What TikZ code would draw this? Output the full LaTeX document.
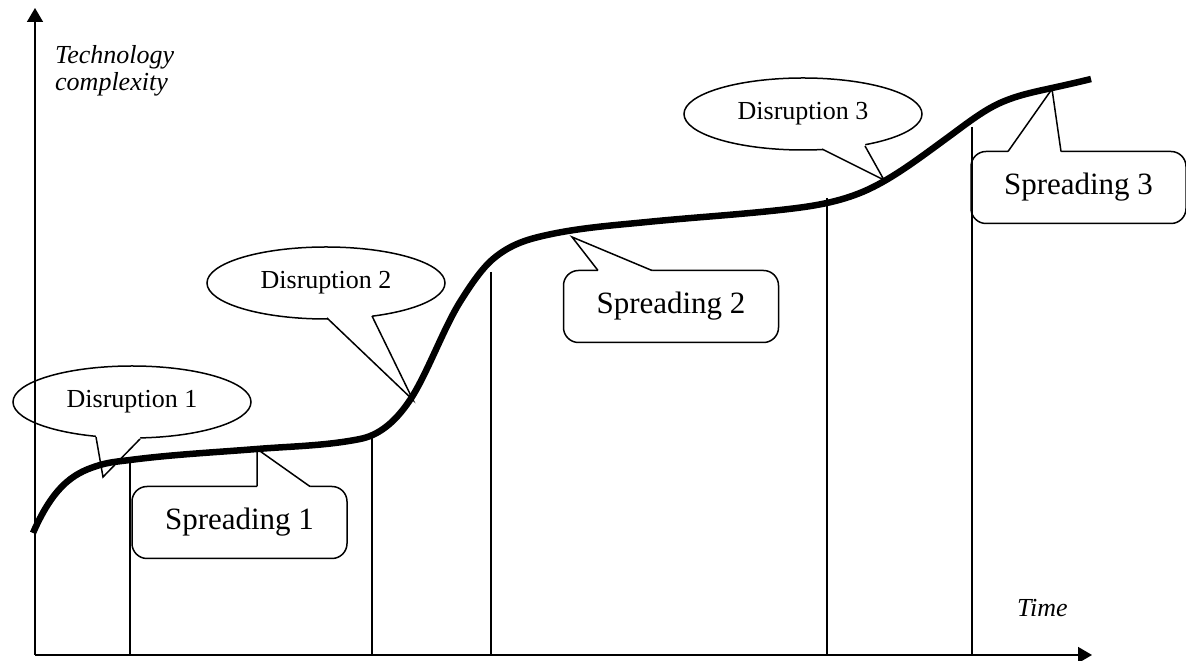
\documentclass[tikz,border=0pt]{standalone}
\usepackage{fontspec}
\setmainfont{Liberation Serif}
\usetikzlibrary{arrows.meta,shapes.geometric}
\begin{document}
\begin{tikzpicture}[x=1pt,y=1pt,
  thinline/.style={line width=1.5pt},
  axis/.style={line width=1.5pt,-{Triangle[width=16pt,length=14pt]}},
  bubble/.style={ellipse,draw,line width=1.5pt,minimum width=238pt,minimum height=72pt,inner sep=0pt,font=\fontsize{26}{30}\selectfont},
  callbox/.style={rectangle,rounded corners=15pt,draw,line width=1.5pt,minimum width=215pt,minimum height=72pt,inner sep=0pt,font=\fontsize{31}{36}\selectfont},
  ptrfill/.style={fill=white,draw=none},
  ptr/.style={line width=1.5pt,line join=miter},
  growth/.style={line width=6.5pt},
  axislabel/.style={font=\fontsize{26}{27}\selectfont\itshape,inner sep=0pt,align=left}
]
\useasboundingbox (0,0) rectangle (1186,661);

% axes
\coordinate (O) at (35,6);
\coordinate (ytop) at (35,653);
\coordinate (xend) at (1092,6);
\draw[axis] (O) -- (ytop);
\draw[axis] (O) -- (xend);

% vertical phase lines
\coordinate (v1t) at (130,198); \coordinate (v1b) at (130,6);
\coordinate (v2t) at (372,223); \coordinate (v2b) at (372,6);
\coordinate (v3t) at (491,389); \coordinate (v3b) at (491,6);
\coordinate (v4t) at (827,463); \coordinate (v4b) at (827,6);
\coordinate (v5t) at (972,534); \coordinate (v5b) at (972,6);
\foreach \v in {1,...,5} \draw[thinline] (v\v t) -- (v\v b);

% callouts
\node[bubble] (d1) at (132,259) {Disruption 1};
\node[bubble] (d2) at (326,378) {Disruption 2};
\node[bubble] (d3) at (803,547) {Disruption 3};
\node[callbox] (s1) at (239.5,138.5) {Spreading 1};
\node[callbox] (s2) at (671,354.5) {Spreading 2};
\node[callbox] (s3) at (1078.5,473.5) {Spreading 3};

% pointers of disruptions
\coordinate (d1a) at (96,224); \coordinate (d1b) at (140,222); \coordinate (d1t) at (103,184);
\coordinate (d2a) at (327,343); \coordinate (d2b) at (372,345); \coordinate (d2t) at (413,261);
\coordinate (d3a) at (822,512); \coordinate (d3b) at (865,515); \coordinate (d3t) at (884,481);
\foreach \p in {d1,d2,d3}{
  \fill[ptrfill] (\p t) -- (\p a) -- ([yshift=5pt]\p a) -- ([yshift=5pt]\p b) -- (\p b) -- cycle;
  \draw[ptr] (\p a) -- (\p t) -- (\p b);
}
% pointers of spreadings
\coordinate (s1a) at (257,174.5); \coordinate (s1b) at (310,174.5); \coordinate (s1t) at (257,212);
\coordinate (s2a) at (598,390.5); \coordinate (s2b) at (652,390.5); \coordinate (s2t) at (572,424);
\coordinate (s3a) at (1008,509.5); \coordinate (s3b) at (1061,509.5); \coordinate (s3t) at (1052,572);
\foreach \p in {s1,s2,s3}{
  \fill[ptrfill] (\p t) -- (\p a) -- ([yshift=-5pt]\p a) -- ([yshift=-5pt]\p b) -- (\p b) -- cycle;
  \draw[ptr] (\p a) -- (\p t) -- (\p b);
}

% growth curve
\draw[growth] (33,128)
  .. controls (55.33,179.37) and (77.67,189.3) .. (100,196)
  .. controls (110,199) and (120,199.7) .. (130,201)
  .. controls (172.33,206.5) and (214.67,208.61) .. (257,212)
  .. controls (291.33,214.75) and (325.67,215.13) .. (360,222)
  .. controls (376.67,225.33) and (393.33,236) .. (410,261)
  .. controls (426.67,286) and (443.33,332.33) .. (460,359)
  .. controls (471,376.6) and (482,392.65) .. (493,402)
  .. controls (511,417.3) and (529,422.04) .. (547,426)
  .. controls (580.33,433.33) and (613.67,435.67) .. (647,439)
  .. controls (691.33,443.43) and (735.67,446.12) .. (780,451)
  .. controls (806.67,453.93) and (833.33,457.33) .. (860,468)
  .. controls (889,479.6) and (918,501.83) .. (947,523)
  .. controls (964.67,535.9) and (982.33,550.05) .. (1000,558)
  .. controls (1017.33,565.8) and (1034.67,569.19) .. (1052,573)
  .. controls (1065,575.86) and (1078,578.75) .. (1091,582);

% axis labels
\node[axislabel,anchor=north west] (ylab) at (55,616) {Technology\\complexity};
\node[axislabel,anchor=base west] (xlab) at (1017,44) {Time};
\end{tikzpicture}
\end{document}
